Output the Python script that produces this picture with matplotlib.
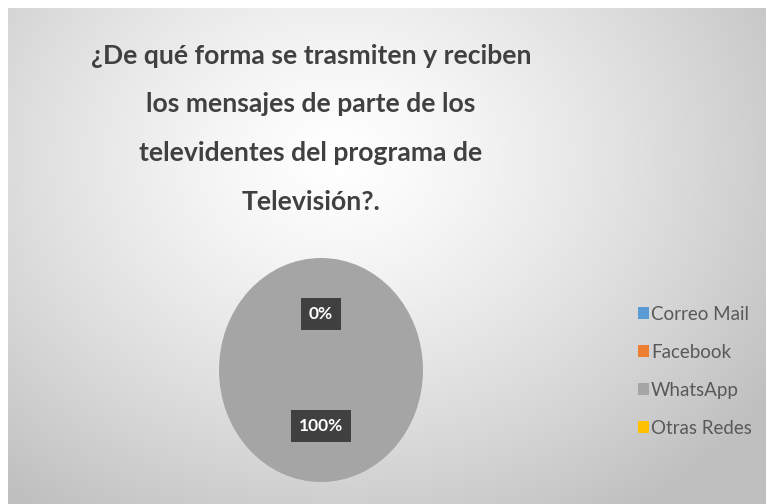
import numpy as np
import matplotlib.pyplot as plt

categories = ['Correo Mail', 'Facebook', 'WhatsApp', 'Otras Redes']
values = [0, 0, 100, 0]
colors = ['#5b9bd5', '#ed7d31', '#a5a5a5', '#ffc000']
title_lines = ['¿De qué forma se trasmiten y reciben', 'los mensajes de parte de los',
               'televidentes del programa de', 'Televisión?.']

font = ['Lato', 'DejaVu Sans']

W, H = 766, 504
fig = plt.figure(figsize=(W / 100, H / 100), dpi=100)
fig.patch.set_facecolor('white')

# chart area with radial gradient background
bg = fig.add_axes([8 / W, 0, (W - 8) / W, (H - 8) / H])
yy, xx = np.mgrid[0:496, 0:758]
d = np.sqrt(((xx - 330) / 520.0) ** 2 + ((yy - 150) / 430.0) ** 2)
d = np.clip(d, 0, 1)
shade = 1.0 - 0.25 * d ** 1.3
bg.imshow(np.dstack([shade] * 3), aspect='auto', extent=[0, 1, 0, 1], origin='upper')
bg.set_xlim(0, 1)
bg.set_ylim(0, 1)
bg.axis('off')

# title, one line at a time, size scaled so the first line is ~440 px wide
baselines = [64, 112, 161, 210]
renderer = fig.canvas.get_renderer()
probe = fig.text(0, 0, title_lines[0], fontsize=24, fontweight='bold', family=font)
w = probe.get_window_extent(renderer).width
probe.remove()
tsize = 24 * 440 / w
for line, y in zip(title_lines, baselines):
    fig.text(311 / W, 1 - y / H, line, ha='center', va='baseline', fontsize=tsize,
             fontweight='bold', color='#404040', family=font)

# pie (slightly taller than wide, as in the source)
cx, cy, rx, ry = 321, 370, 102, 112
ax = fig.add_axes([(cx - rx) / W, 1 - (cy + ry) / H, 2 * rx / W, 2 * ry / H])
wedges, texts, autotexts = ax.pie(values, colors=colors, startangle=90, counterclock=False,
                                  autopct='%1.0f%%', pctdistance=0.5, radius=1,
                                  textprops=dict(color='white', fontsize=12.5, fontweight='bold', family=font))
for t in autotexts:
    t.set_bbox(dict(boxstyle='square,pad=0.45', facecolor='#404040', edgecolor='none'))
ax.set_aspect('auto')
ax.set_xlim(-1, 1)
ax.set_ylim(-1, 1)

leg = fig.legend(wedges, categories, loc='upper left', bbox_to_anchor=(621 / W, 1 - 289 / H),
                 frameon=False, labelcolor='#595959', handlelength=0.6,
                 handleheight=0.6, handletextpad=0.1, labelspacing=1.12,
                 prop=dict(family=font, size=13.5))

fig.savefig('out.png', dpi=100)
